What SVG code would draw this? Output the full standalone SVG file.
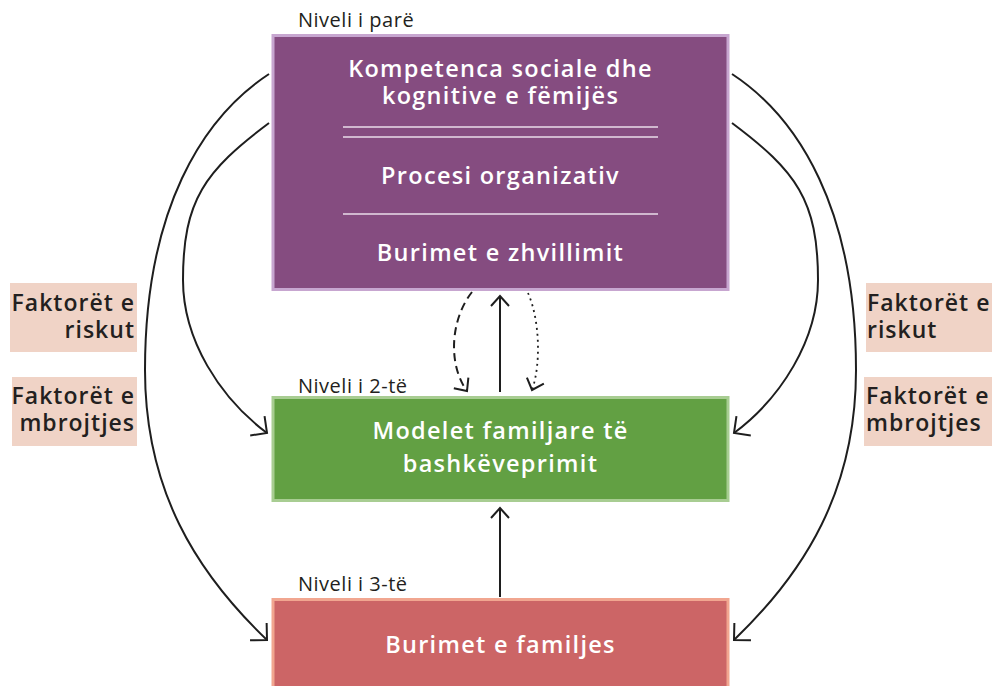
<svg xmlns="http://www.w3.org/2000/svg" width="995" height="686" viewBox="0 0 995 686">
  <style>
    .box-text { font-family: "Open Sans", "Noto Sans", sans-serif; font-size: 23.5px; font-weight: 600; letter-spacing: 1.3px; fill: #ffffff; text-anchor: middle; }
    .level { font-family: "Open Sans", "Noto Sans", sans-serif; font-size: 20px; letter-spacing: 0.5px; fill: #231f20; }
    .factor { font-family: "Open Sans", "Noto Sans", sans-serif; font-size: 23px; font-weight: 600; letter-spacing: 1px; fill: #231f20; }
    .factor-bg { fill: #f0d3c6; }
    .divider { stroke: #eadcea; stroke-width: 1.3; }
    .link { fill: none; stroke: #1e1e1e; stroke-width: 2; }
    .dashed { stroke-dasharray: 8 5; }
    .dotted { stroke-dasharray: 2 4; stroke-width: 1.8; }
  </style>
  <defs>
    <marker id="chevron" markerUnits="userSpaceOnUse" viewBox="-14 -14 16 28" markerWidth="16" markerHeight="28" refX="0" refY="0" orient="auto">
      <path d="M -12 -12 L 0 0 L -12 12" fill="none" stroke="#1e1e1e" stroke-width="2"/>
    </marker>
    <marker id="chevron-small" markerUnits="userSpaceOnUse" viewBox="-12 -11 14 22" markerWidth="14" markerHeight="22" refX="0" refY="0" orient="auto">
      <path d="M -10 -9 L 0 0 L -10 9" fill="none" stroke="#1e1e1e" stroke-width="2"/>
    </marker>
  </defs>

  <!-- level captions -->
  <text class="level" x="298" y="27">Niveli i parë</text>
  <text class="level" x="298" y="393">Niveli i 2-të</text>
  <text class="level" x="298" y="591">Niveli i 3-të</text>

  <!-- first level: child competences -->
  <g id="node-level1">
    <rect x="273" y="35.5" width="455" height="254" fill="#854c80" stroke="#c7a6d0" stroke-width="3"/>
    <text class="box-text" x="500.5" y="77">Kompetenca sociale dhe</text>
    <text class="box-text" x="500.5" y="104">kognitive e fëmijës</text>
    <line class="divider" x1="343" y1="127" x2="658" y2="127"/>
    <line class="divider" x1="343" y1="137" x2="658" y2="137"/>
    <text class="box-text" x="500.5" y="184">Procesi organizativ</text>
    <line class="divider" x1="343" y1="214" x2="658" y2="214"/>
    <text class="box-text" x="500.5" y="261">Burimet e zhvillimit</text>
  </g>

  <!-- second level: family interaction -->
  <g id="node-level2">
    <rect x="273" y="397.5" width="455" height="103" fill="#62a043" stroke="#a8cd92" stroke-width="3"/>
    <text class="box-text" x="500.5" y="439">Modelet familjare të</text>
    <text class="box-text" x="500.5" y="472">bashkëveprimit</text>
  </g>

  <!-- third level: family resources -->
  <g id="node-level3">
    <rect x="273" y="599.5" width="455" height="90" fill="#cc6566" stroke="#f1a690" stroke-width="3"/>
    <text class="box-text" x="500.5" y="653">Burimet e familjes</text>
  </g>

  <!-- factor labels -->
  <g id="label-risk-left">
    <rect class="factor-bg" x="10" y="283" width="127" height="69"/>
    <text class="factor" x="135" y="311" text-anchor="end">Faktorët e</text>
    <text class="factor" x="135" y="338" text-anchor="end">riskut</text>
  </g>
  <g id="label-protect-left">
    <rect class="factor-bg" x="12" y="377" width="125" height="69"/>
    <text class="factor" x="135" y="404" text-anchor="end">Faktorët e</text>
    <text class="factor" x="135" y="431" text-anchor="end">mbrojtjes</text>
  </g>
  <g id="label-risk-right">
    <rect class="factor-bg" x="866" y="283" width="126" height="69"/>
    <text class="factor" x="867" y="311">Faktorët e</text>
    <text class="factor" x="867" y="338">riskut</text>
  </g>
  <g id="label-protect-right">
    <rect class="factor-bg" x="864" y="377" width="128" height="69"/>
    <text class="factor" x="866" y="404">Faktorët e</text>
    <text class="factor" x="866" y="431">mbrojtjes</text>
  </g>

  <!-- connectors -->
  <g id="connectors">
    <!-- left side arcs -->
    <path class="link" d="M 269 74 C 202 118 145 210 145 370 C 145 490 196 572 267 640" marker-end="url(#chevron)"/>
    <path class="link" d="M 269 123 C 205 171 183 200 183 280 C 183 340 220 398 267 433" marker-end="url(#chevron)"/>
    <!-- right side arcs -->
    <path class="link" d="M 732 74 C 799 118 856 210 856 370 C 856 490 805 572 734 640" marker-end="url(#chevron)"/>
    <path class="link" d="M 732 123 C 796 171 818 200 818 280 C 818 340 781 398 734 433" marker-end="url(#chevron)"/>
    <!-- vertical links between levels -->
    <path class="link" d="M 500 392 L 500 296" marker-end="url(#chevron-small)"/>
    <path class="link" d="M 500 597 L 500 508" marker-end="url(#chevron-small)"/>
    <path class="link dashed" d="M 472 292 C 450 320 448 365 467 391" marker-end="url(#chevron-small)"/>
    <path class="link dotted" d="M 528 293 C 540 320 541 365 532 390" marker-end="url(#chevron-small)"/>
  </g>
</svg>
